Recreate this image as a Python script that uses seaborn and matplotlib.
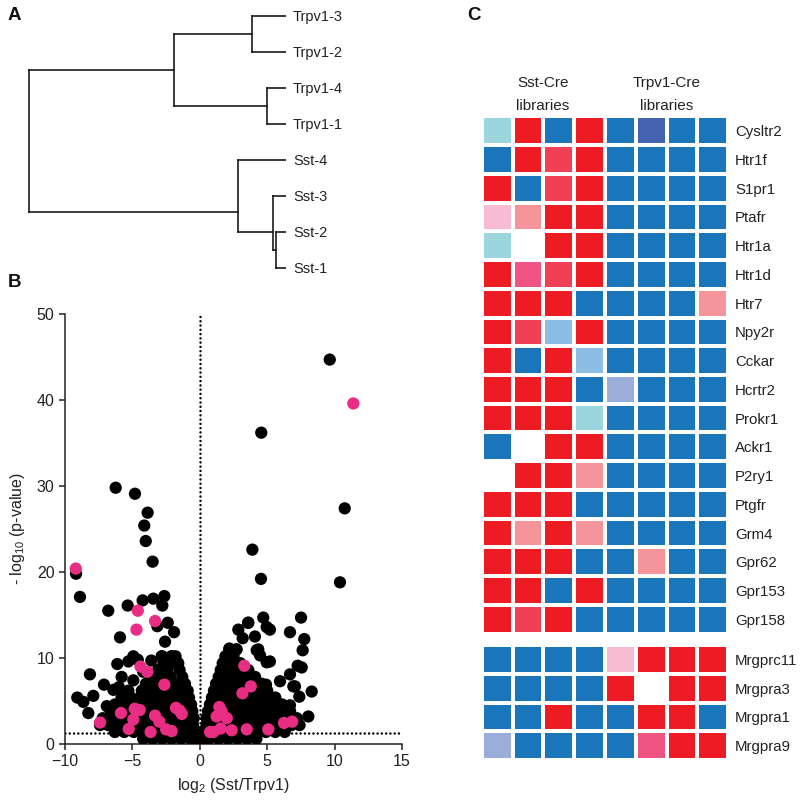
import numpy as np
import pandas as pd
import matplotlib
matplotlib.use("Agg")
import matplotlib.pyplot as plt
from matplotlib.colors import ListedColormap
import seaborn as sns

sns.set_style("ticks")
plt.rcParams["font.family"] = ["Liberation Sans", "DejaVu Sans"]
plt.rcParams["mathtext.default"] = "regular"

# ---------------- Panel A: dendrogram ----------------
leaf_labels = ["Trpv1-3", "Trpv1-2", "Trpv1-4", "Trpv1-1", "Sst-4", "Sst-3", "Sst-2", "Sst-1"]
# merges (nodes numbered from 8): child a, child b, height, drawn position
merge_a = [0, 2, 8, 6, 5, 4, 10]
merge_b = [1, 3, 9, 7, 11, 12, 13]
merge_height = [0.132, 0.074, 0.436, 0.039, 0.051, 0.187, 1.0]
merge_pos = [0.5, 2.5, 1.5, 6.5, 6.0, 5.45, 3.5]

# ---------------- Panel B: volcano ----------------
# dense cloud of genes, read row by row (y level, x positions)
cloud_left = [
    (0.6, [-4.2, -3.5, -2.8, -2.1, -1.4, -0.7, -0.15]),
    (1.4, [-6.3, -5.6, -4.9, -4.2, -3.5, -2.8, -2.1, -1.4, -0.7, -0.2]),
    (2.2, [-7.4, -6.8, -6.1, -5.4, -4.7, -4.0, -3.3, -2.6, -1.9, -1.2, -0.5]),
    (3.0, [-7.2, -6.5, -5.8, -5.1, -4.4, -3.7, -3.0, -2.3, -1.6, -0.9, -0.45]),
    (3.8, [-6.6, -5.9, -5.2, -4.5, -3.8, -3.1, -2.4, -1.7, -1.0, -0.55]),
    (4.6, [-6.3, -5.6, -4.9, -4.2, -3.5, -2.8, -2.1, -1.4, -0.65]),
    (5.4, [-5.8, -5.1, -4.4, -3.7, -3.0, -2.3, -1.6, -0.8]),
    (6.2, [-5.3, -4.3, -3.6, -2.9, -2.2, -1.5, -0.9]),
    (7.0, [-4.0, -3.3, -2.6, -1.9, -1.1]),
    (7.8, [-3.6, -2.9, -2.2, -1.3]),
    (8.6, [-3.1, -2.4, -1.5]),
    (9.4, [-2.7, -2.0, -1.6]),
    (10.2, [-2.8, -2.1, -1.8]),
]
cloud_right = [
    (0.6, [0.15, 0.7, 1.4, 2.1, 2.8, 3.5, 4.2]),
    (1.4, [0.2, 0.7, 1.4, 2.1, 2.8, 3.5, 4.2, 4.9, 5.6, 6.3]),
    (2.2, [0.5, 1.2, 1.9, 2.6, 3.3, 4.0, 4.7, 5.4, 6.1, 6.8, 7.4]),
    (3.0, [0.5, 1.0, 1.7, 2.4, 3.1, 3.8, 4.5, 5.2, 5.9, 6.6, 7.2]),
    (3.8, [0.6, 1.1, 1.8, 2.5, 3.2, 3.9, 4.6, 5.3, 6.0, 6.7]),
    (4.6, [0.75, 1.3, 2.0, 2.7, 3.4, 4.1, 4.8, 5.5, 6.1]),
    (5.4, [0.9, 1.5, 2.2, 2.9, 3.6, 4.3, 5.0, 5.6]),
    (6.2, [1.05, 1.6, 2.3, 3.0, 3.7, 4.4, 5.0]),
    (7.0, [1.2, 1.8, 2.5, 3.2, 3.9, 4.6]),
    (7.8, [1.4, 2.0, 2.7, 3.4, 4.1]),
    (8.6, [1.55, 2.2, 2.9, 3.6]),
    (9.4, [1.7, 2.3, 3.0]),
    (10.2, [1.9, 2.5]),
    (11.0, [2.2, 2.7]),
]
black_outliers = [
    (9.64, 44.7), (4.56, 36.2), (10.75, 27.4), (-6.24, 29.8), (-4.81, 29.1),
    (-3.87, 26.9), (-4.12, 25.4), (-4.01, 23.6), (3.9, 22.6), (-3.5, 21.2),
    (4.54, 19.2), (10.4, 18.8), (-9.18, 19.8), (-8.89, 17.1), (-6.79, 15.5),
    (-5.35, 16.1), (-4.24, 16.7), (-3.45, 16.9), (-2.63, 17.2), (-2.78, 16.1),
    (-3.15, 13.7), (-2.38, 14.1), (-1.91, 13.0), (-2.58, 11.9), (-5.92, 12.4),
    (-8.15, 8.1), (-7.11, 6.9), (-9.09, 5.4), (-8.64, 4.9), (-7.9, 5.6),
    (-8.27, 3.6), (-6.12, 9.3), (-4.93, 7.4), (-4.93, 10.2), (-5.3, 9.6),
    (-5.8, 7.8), (-6.41, 6.3), (-2.09, 10.2), (-2.83, 10.2), (3.58, 14.1),
    (4.71, 14.7), (4.96, 13.6), (2.86, 13.3), (3.18, 12.3), (4.09, 12.5),
    (7.51, 14.7), (6.69, 13.0), (7.75, 12.2), (7.63, 10.9), (7.26, 9.1),
    (7.56, 8.9), (6.69, 8.1), (8.3, 6.1), (8.05, 3.2), (5.95, 7.3),
    (4.96, 9.5), (4.22, 10.9), (4.47, 10.3), (6.94, 6.7), (2.19, 11.1),
    (2.73, 11.0), (4.34, 11.0), (4.91, 6.9), (5.58, 5.3), (6.69, 4.5),
    (7.06, 6.7), (7.38, 5.5), (5.2, 13.3), (5.2, 9.6), (3.6, 14.1),
    (-4.2, 8.4), (-3.6, 9.7), (-4.6, 9.8), (-6.9, 4.4), (-6.0, 6.6),
]
gpcr_points = [
    (11.39, 39.6), (-9.2, 20.4), (-4.6, 15.5), (-4.7, 13.3), (-3.32, 14.3),
    (-4.4, 9.0), (-3.89, 8.4), (-2.63, 6.9), (-7.4, 2.5), (-5.85, 3.6),
    (-4.83, 4.1), (-4.46, 3.95), (-4.93, 2.85), (-5.27, 1.75), (-3.65, 1.4),
    (-3.32, 3.3), (-3.0, 2.6), (-2.5, 1.7), (-2.09, 1.5), (-1.77, 4.2),
    (-1.5, 3.9), (-1.34, 3.5), (3.3, 9.1), (3.78, 6.7), (3.16, 5.9),
    (1.0, 1.4), (1.55, 1.8), (1.45, 4.3), (1.62, 3.8), (1.25, 3.2),
    (2.0, 3.0), (2.36, 1.6), (3.48, 1.7), (5.08, 1.7), (6.25, 2.45),
    (6.85, 2.6), (0.76, 1.4),
]
p_threshold = 1.3
x_ticks = [-10, -5, 0, 5, 10, 15]
y_ticks = [0, 10, 20, 30, 40, 50]

# ---------------- Panel C: heatmap ----------------
genes_top = ["Cysltr2", "Htr1f", "S1pr1", "Ptafr", "Htr1a", "Htr1d", "Htr7", "Npy2r",
             "Cckar", "Hcrtr2", "Prokr1", "Ackr1", "P2ry1", "Ptgfr", "Grm4", "Gpr62",
             "Gpr153", "Gpr158"]
genes_bottom = ["Mrgprc11", "Mrgpra3", "Mrgpra1", "Mrgpra9"]
libraries = ["Sst-1", "Sst-2", "Sst-3", "Sst-4", "Trpv1-1", "Trpv1-2", "Trpv1-3", "Trpv1-4"]
# level codes per gene across the 8 libraries ('W' = no value)
codes_top = ["cRBRBdBB", "BRmRBBBB", "RBmRBBBB", "krRRBBBB", "cWRRBBBB", "RpmRBBBB",
             "RRRBBBBr", "RmlRBBBB", "RBRlBBBB", "RRRBvBBB", "RRRcBBBB", "BWRRBBBB",
             "WRRrBBBB", "RRRBBBBB", "RrRrBBBB", "RRRBBrBB", "RRBRBBBB", "RmRBBBBB"]
codes_bottom = ["BBBBkRRR", "BBBBRWRR", "BBRBBRRB", "vBBBBpRR"]
level_order = ["R", "m", "p", "r", "k", "c", "l", "v", "d", "B"]
level_colors = ["#ED1C24", "#EF4056", "#EF5483", "#F5949B", "#F7BBD4",
                "#9BD5DE", "#8BBDE5", "#9AAED9", "#4462AD", "#1B75BB"]

# ================= figure =================
fig = plt.figure(figsize=(8.0, 8.06), dpi=100)
W, H = 800.0, 806.0


def rect(x0, y0, x1, y1):
    return [x0 / W, 1 - y1 / H, (x1 - x0) / W, (y1 - y0) / H]


# ---- Panel A ----
axA = fig.add_axes(rect(25, 4.9, 286, 278.8))
heights = {i: 0.0 for i in range(len(leaf_labels))}
positions = {i: float(i) for i in range(len(leaf_labels))}
for i, (a, b, h, p) in enumerate(zip(merge_a, merge_b, merge_height, merge_pos)):
    node = len(leaf_labels) + i
    axA.plot([h, h], [positions[a], positions[b]], color="#1a1a1a", lw=1.2, solid_capstyle="projecting")
    for c in (a, b):
        axA.plot([heights[c], h], [positions[c], positions[c]], color="#1a1a1a", lw=1.2,
                 solid_capstyle="projecting")
    heights[node] = h
    positions[node] = p
axA.set_xlim(1.0 + 4 / 257, 0)
axA.set_ylim(7.3, -0.3)
axA.set_yticks(range(len(leaf_labels)))
axA.set_yticklabels(leaf_labels, fontsize=10.5, color="#222222")
axA.yaxis.tick_right()
axA.tick_params(axis="y", length=0, pad=5)
axA.set_xticks([])
for s in axA.spines.values():
    s.set_visible(False)

# ---- Panel B ----
axB = fig.add_axes(rect(65, 314, 402, 744))
rows = []
for yv, xs in cloud_left + cloud_right:
    for xv in xs:
        rows.append((xv, yv, "other"))
for xv, yv in black_outliers:
    rows.append((xv, yv, "other"))
for xv, yv in gpcr_points:
    rows.append((xv, yv, "gpcr"))
vol = pd.DataFrame(rows, columns=["log2fc", "nlogp", "group"])

dot_style = (0, (0.01, 1.7))
for ln in (axB.axvline(0, color="black", lw=1.8, ls=dot_style, zorder=1),
           axB.axhline(p_threshold, color="black", lw=1.8, ls=dot_style, zorder=1)):
    ln.set_dash_capstyle("round")
sns.scatterplot(data=vol, x="log2fc", y="nlogp", hue="group",
                palette={"other": "black", "gpcr": "#EA2D84"},
                s=78, linewidth=0, legend=False, ax=axB, zorder=3)
axB.set_xlim(-10, 15)
axB.set_ylim(0, 50)
axB.set_xticks(x_ticks)
axB.set_yticks(y_ticks)
axB.tick_params(axis="both", labelsize=11.5, length=4.5, width=1.1, color="#222222",
                labelcolor="#222222", pad=3)
for side in ["top", "right"]:
    axB.spines[side].set_visible(False)
for side in ["left", "bottom"]:
    axB.spines[side].set_linewidth(1.1)
    axB.spines[side].set_color("#222222")
axB.set_xlabel("log$_2$ (Sst/Trpv1)", fontsize=11.5, color="#222222", labelpad=5)
axB.set_ylabel("- log$_{10}$ (p-value)", fontsize=11.5, color="#222222", labelpad=7)

# ---- Panel C ----
cmap = ListedColormap(level_colors)


def to_matrix(codes, genes):
    mat = [[level_order.index(ch) if ch != "W" else np.nan for ch in row] for row in codes]
    return pd.DataFrame(mat, index=genes, columns=libraries)


for codes, genes, (y0, y1) in [(codes_top, genes_top, (116.45, 633.55)),
                              (codes_bottom, genes_bottom, (645.45, 759.55))]:
    axC = fig.add_axes(rect(481.75, y0, 728.25, y1))
    sns.heatmap(to_matrix(codes, genes), ax=axC, cmap=cmap, vmin=-0.5,
                vmax=len(level_colors) - 0.5, cbar=False, linewidths=2.6,
                linecolor="white", xticklabels=False, yticklabels=genes)
    axC.yaxis.tick_right()
    axC.set_yticklabels(genes, rotation=0, fontsize=10.8, color="#222222")
    axC.tick_params(axis="y", length=0, pad=5)
    axC.set_ylabel("")
    axC.set_xlabel("")

fig.text(543 / W, 1 - 83 / H, "Sst-Cre", ha="center", va="center", fontsize=11, color="#222222")
fig.text(543 / W, 1 - 106 / H, "libraries", ha="center", va="center", fontsize=11, color="#222222")
fig.text(667 / W, 1 - 83 / H, "Trpv1-Cre", ha="center", va="center", fontsize=11, color="#222222")
fig.text(667 / W, 1 - 106 / H, "libraries", ha="center", va="center", fontsize=11, color="#222222")

for lab, (px, py) in {"A": (14.5, 15), "B": (14, 283), "C": (474, 15)}.items():
    fig.text(px / W, 1 - py / H, lab, ha="center", va="center", fontsize=13.5,
             fontweight="bold", color="#111111")

fig.savefig("out.png", dpi=100)
